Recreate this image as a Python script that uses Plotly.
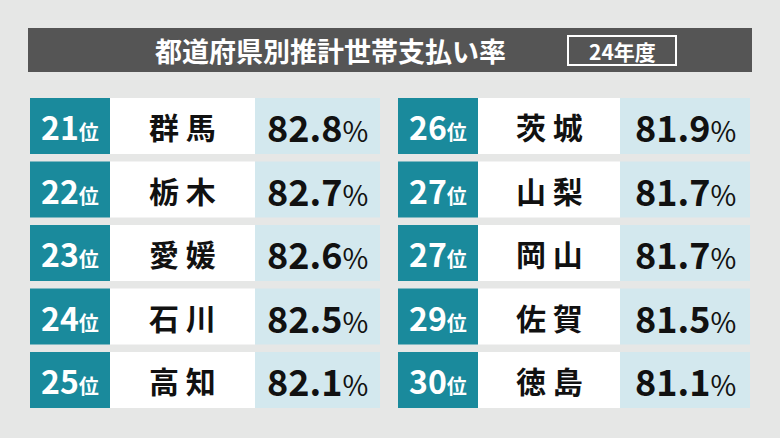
import plotly.graph_objects as go

ranks_left = ["21", "22", "23", "24", "25"]
names_left = ["群 馬", "栃 木", "愛 媛", "石 川", "高 知"]
values_left = [82.8, 82.7, 82.6, 82.5, 82.1]
ranks_right = ["26", "27", "27", "29", "30"]
names_right = ["茨 城", "山 梨", "岡 山", "佐 賀", "徳 島"]
values_right = [81.9, 81.7, 81.7, 81.5, 81.1]

FONT = "Noto Sans CJK JP"
W, H = 780, 438
fig = go.Figure()
shapes = []
ann = []

# background + title bar
shapes.append(dict(type="rect", x0=0, x1=W, y0=0, y1=H, fillcolor="#e6e7e6", line_width=0, layer="below"))
shapes.append(dict(type="rect", x0=28, x1=752, y0=28, y1=72, fillcolor="#555555", line_width=0))
ann.append(dict(x=330, y=50, text="<b>都道府県別推計世帯支払い率</b>", showarrow=False,
                font=dict(family=FONT, size=27, color="white")))
shapes.append(dict(type="rect", x0=568, x1=676, y0=36, y1=65, line=dict(color="white", width=2)))
ann.append(dict(x=622, y=51, text="<b>24年度</b>", showarrow=False,
                font=dict(family=FONT, size=21, color="white")))

row_top = 98
row_h = 56
gap = 7.5

def column(ranks, names, values, x0, xr, xn, xe):
    for i, (r, n, v) in enumerate(zip(ranks, names, values)):
        t = row_top + i * (row_h + gap)
        b = t + row_h
        c = (t + b) / 2
        shapes.append(dict(type="rect", x0=x0, x1=xr, y0=t, y1=b, fillcolor="#1a8a9c", line_width=0))
        shapes.append(dict(type="rect", x0=xr, x1=xn, y0=t, y1=b, fillcolor="white", line_width=0))
        shapes.append(dict(type="rect", x0=xn, x1=xe, y0=t, y1=b, fillcolor="#d3e8ee", line_width=0))
        ann.append(dict(x=(x0 + xr) / 2, y=c, showarrow=False,
                        text=f"<b>{r}</b><span style='font-size:20px'><b>位</b></span>",
                        font=dict(family=FONT, size=32, color="white")))
        ann.append(dict(x=(xr + xn) / 2, y=c, showarrow=False, text=f"<b>{n}</b>",
                        font=dict(family=FONT, size=30, color="#111111")))
        ann.append(dict(x=(xn + xe) / 2, y=c, showarrow=False,
                        text=f"<b>{v:.1f}</b><span style='font-size:28px'>%</span>",
                        font=dict(family=FONT, size=36, color="#111111")))

column(ranks_left, names_left, values_left, 30, 110, 255, 380)
column(ranks_right, names_right, values_right, 398, 478, 620, 750)

fig.update_layout(
    width=W, height=H, margin=dict(l=0, r=0, t=0, b=0),
    paper_bgcolor="#e6e7e6", plot_bgcolor="#e6e7e6",
    xaxis=dict(range=[0, W], visible=False, fixedrange=True),
    yaxis=dict(range=[H, 0], visible=False, fixedrange=True),
    shapes=shapes, annotations=ann, showlegend=False,
)
fig.write_html("out.html", config={"displayModeBar": False},
               post_script="document.body.style.margin='0';document.body.style.overflow='hidden';")
